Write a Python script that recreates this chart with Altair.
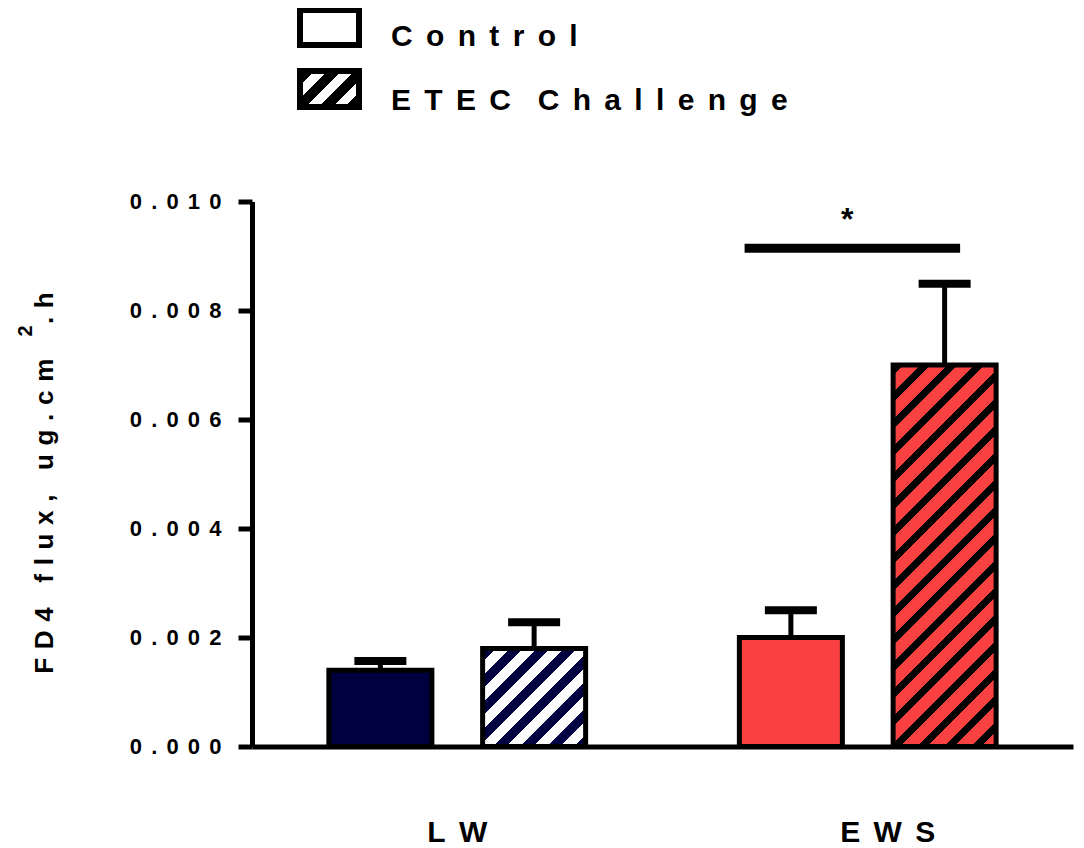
import altair as alt
import pandas as pd

# ---------------- data ----------------
groups = ["LW", "EWS"]
treatments = ["Control", "ETEC Challenge"]
lw_mean = [0.00140, 0.00180]
lw_sem = [0.00017, 0.00048]
ews_mean = [0.00200, 0.00700]
ews_sem = [0.00050, 0.00149]
y_ticks = [0.000, 0.002, 0.004, 0.006, 0.008, 0.010]
sig_group = ["EWS"]
sig_level = [0.00914]
sig_star_level = [0.00966]
sig_text = ["*"]
y_title_text = ["FD4 flux, ug.cm", "2", ".h"]

# ---------------- layout / style ----------------
FONT = "Liberation Sans"
W, H = 821, 545
Y_MAX = 0.010
X_PAD_IN, OFF_PAD_IN, OFF_PAD_OUT = 0.0, 0.33, 0.5
NAVY = "#00003F"
RED = "#F94141"
GAP = "\u00a0\u2006"      # letter gap (~0.45 em)
TICK_GAP = "\u2005\u2006" # letter gap for tick labels (~0.42 em)
THIRD = "\u2004"          # letter gap for the axis title (~0.33 em)


def spaced(s, gap=GAP, word_gap=GAP + GAP):
    return word_gap.join(gap.join(list(w)) for w in s.split(" "))


def hatch(w, h, period, dark_frac, dark, light):
    total = w + h
    c = (1 / h + 1 / w) / (1 / h ** 2 + 1 / w ** 2)
    stops = []
    k = 0
    while k * period < total:
        s = k * period / total
        m = min((k * period + period * dark_frac) / total, 1.0)
        e = min((k + 1) * period / total, 1.0)
        stops += [(s, dark), (m, dark), (m, light), (e, light)]
        k += 1
    return alt.LinearGradient(
        gradient="linear",
        x1=0, y1=0, x2=c / h, y2=c / w,
        stops=[alt.GradientStop(offset=float(o), color=col) for o, col in stops],
    )


# pixel size of one bar (for hatch geometry)
group_band = W / len(groups)
step = group_band / (len(treatments) - OFF_PAD_IN + 2 * OFF_PAD_OUT)
bar_w = step * (1 - OFF_PAD_IN)

rows = []
for g, means, sems in [("LW", lw_mean, lw_sem), ("EWS", ews_mean, ews_sem)]:
    for t, m, s in zip(treatments, means, sems):
        rows.append({"group": g, "treatment": t, "mean": m, "upper": m + s,
                     "key": f"{g}|{t}"})
df = pd.DataFrame(rows)

sig_df = pd.DataFrame({"group": sig_group, "level": sig_level,
                       "star": sig_star_level, "text": sig_text})
legend_df = pd.DataFrame({"label": treatments,
                          "display": [spaced(t) for t in treatments]})
sup_df = pd.DataFrame({"text": [y_title_text[1]]})

y_title = (THIRD.join(list(y_title_text[0])) + THIRD * 4
           + THIRD.join(list(y_title_text[2])))

xscale = alt.Scale(domain=groups, paddingInner=X_PAD_IN, paddingOuter=0)
xaxis = alt.Axis(title=None, ticks=False, tickSize=0, labelAngle=0,
                 labelFontSize=30, labelPadding=71, labelBaseline="top",
                 labelOffset={"condition": {"test": f"datum.label == '{groups[1]}'", "value": 20},
                              "value": 0},
                 labelExpr=f"join(split(datum.label, ''), '{GAP}')")
yscale = alt.Scale(domain=[0, Y_MAX], nice=False, zero=True)
yaxis = alt.Axis(values=y_ticks, grid=False, tickSize=14, tickWidth=5,
                 labelFontSize=22, labelPadding=17,
                 labelExpr=f"join(split(format(datum.value, '.3f'), ''), '{TICK_GAP}')",
                 title=y_title, titleFontSize=26, titleX=-200, titleY=281,
                 titleAlign="center", titleBaseline="alphabetic", titleAngle=270)

X = alt.X("group:N", scale=xscale, axis=xaxis)
XO = alt.XOffset("treatment:N",
                 scale=alt.Scale(domain=treatments, paddingInner=OFF_PAD_IN,
                                 paddingOuter=OFF_PAD_OUT))

base = alt.Chart(df).encode(x=X, xOffset=XO)

stems = base.mark_rule(color="black", strokeWidth=5, opacity=1).encode(
    y=alt.Y("mean:Q", scale=yscale, axis=yaxis), y2="upper:Q")
caps = base.mark_tick(color="black", thickness=8, size=52, opacity=1,
                      orient="horizontal").encode(
    y=alt.Y("upper:Q", scale=yscale, axis=yaxis))

px = lambda v: v / Y_MAX * H
fills = {
    "LW|Control": NAVY,
    "LW|ETEC Challenge": hatch(bar_w, px(lw_mean[1]), 27, 0.5, NAVY, "white"),
    "EWS|Control": RED,
    "EWS|ETEC Challenge": hatch(bar_w, px(ews_mean[1]), 27, 0.38, "black", RED),
}
bars = [
    base.transform_filter(alt.datum.key == k)
    .mark_bar(fill=f, stroke="black", strokeWidth=5, opacity=1)
    .encode(y=alt.Y("mean:Q", scale=yscale, axis=yaxis))
    for k, f in fills.items()
]

sig_line = alt.Chart(sig_df).mark_rule(color="black", strokeWidth=9).encode(
    x=alt.X("group:N", scale=xscale, axis=xaxis, bandPosition=0.2),
    x2=alt.X2("group", bandPosition=0.725),
    y=alt.Y("level:Q", scale=yscale, axis=yaxis),
)
sig_star = alt.Chart(sig_df).mark_text(
    fontSize=32, fontWeight="bold", font=FONT, baseline="middle", color="black"
).encode(
    x=alt.X("group:N", scale=xscale, axis=xaxis, bandPosition=0.45),
    y=alt.Y("star:Q", scale=yscale, axis=yaxis),
    text="text:N",
)

# superscript "2" of the y-axis title
sup = alt.Chart(sup_df).mark_text(
    fontSize=20, fontWeight="bold", font=FONT, angle=270, color="black",
    align="center", baseline="middle"
).encode(x=alt.value(-226), y=alt.value(129.5), text="text:N")

# legend (drawn above the plot area)
leg_boxes = [
    alt.Chart(legend_df).transform_filter(alt.datum.label == treatments[0])
    .mark_rect(fill="white", stroke="black", strokeWidth=6)
    .encode(x=alt.value(48), x2=alt.value(107), y=alt.value(-191.5), y2=alt.value(-156.5)),
    alt.Chart(legend_df).transform_filter(alt.datum.label == treatments[1])
    .mark_rect(fill=hatch(59, 36, 27, 0.55, "black", "white"), stroke="black", strokeWidth=6)
    .encode(x=alt.value(48), x2=alt.value(107), y=alt.value(-130.5), y2=alt.value(-94.5)),
]
leg_texts = [
    alt.Chart(legend_df).transform_filter(alt.datum.label == treatments[0])
    .mark_text(align="left", baseline="alphabetic", fontSize=30, fontWeight="bold",
               font=FONT, color="black")
    .encode(x=alt.value(139), y=alt.value(-155.5), text="display:N"),
    alt.Chart(legend_df).transform_filter(alt.datum.label == treatments[1])
    .mark_text(align="left", baseline="alphabetic", fontSize=30, fontWeight="bold",
               font=FONT, color="black")
    .encode(x=alt.value(139), y=alt.value(-91.5), text="display:N"),
]

chart = alt.layer(
    stems, caps, *bars, sig_line, sig_star, sup, *leg_boxes, *leg_texts
).properties(
    width=W, height=H,
    autosize=alt.AutoSizeParams(type="none"),
    padding={"left": 244, "top": 193.5, "right": 3, "bottom": 101.5},
).configure_view(stroke=None).configure_axis(
    domainColor="black", domainWidth=5, tickColor="black",
    labelFont=FONT, labelFontWeight="bold", labelColor="black",
    titleFont=FONT, titleFontWeight="bold", titleColor="black",
)

chart.save("out.html", embed_options={"renderer": "svg", "actions": False})
